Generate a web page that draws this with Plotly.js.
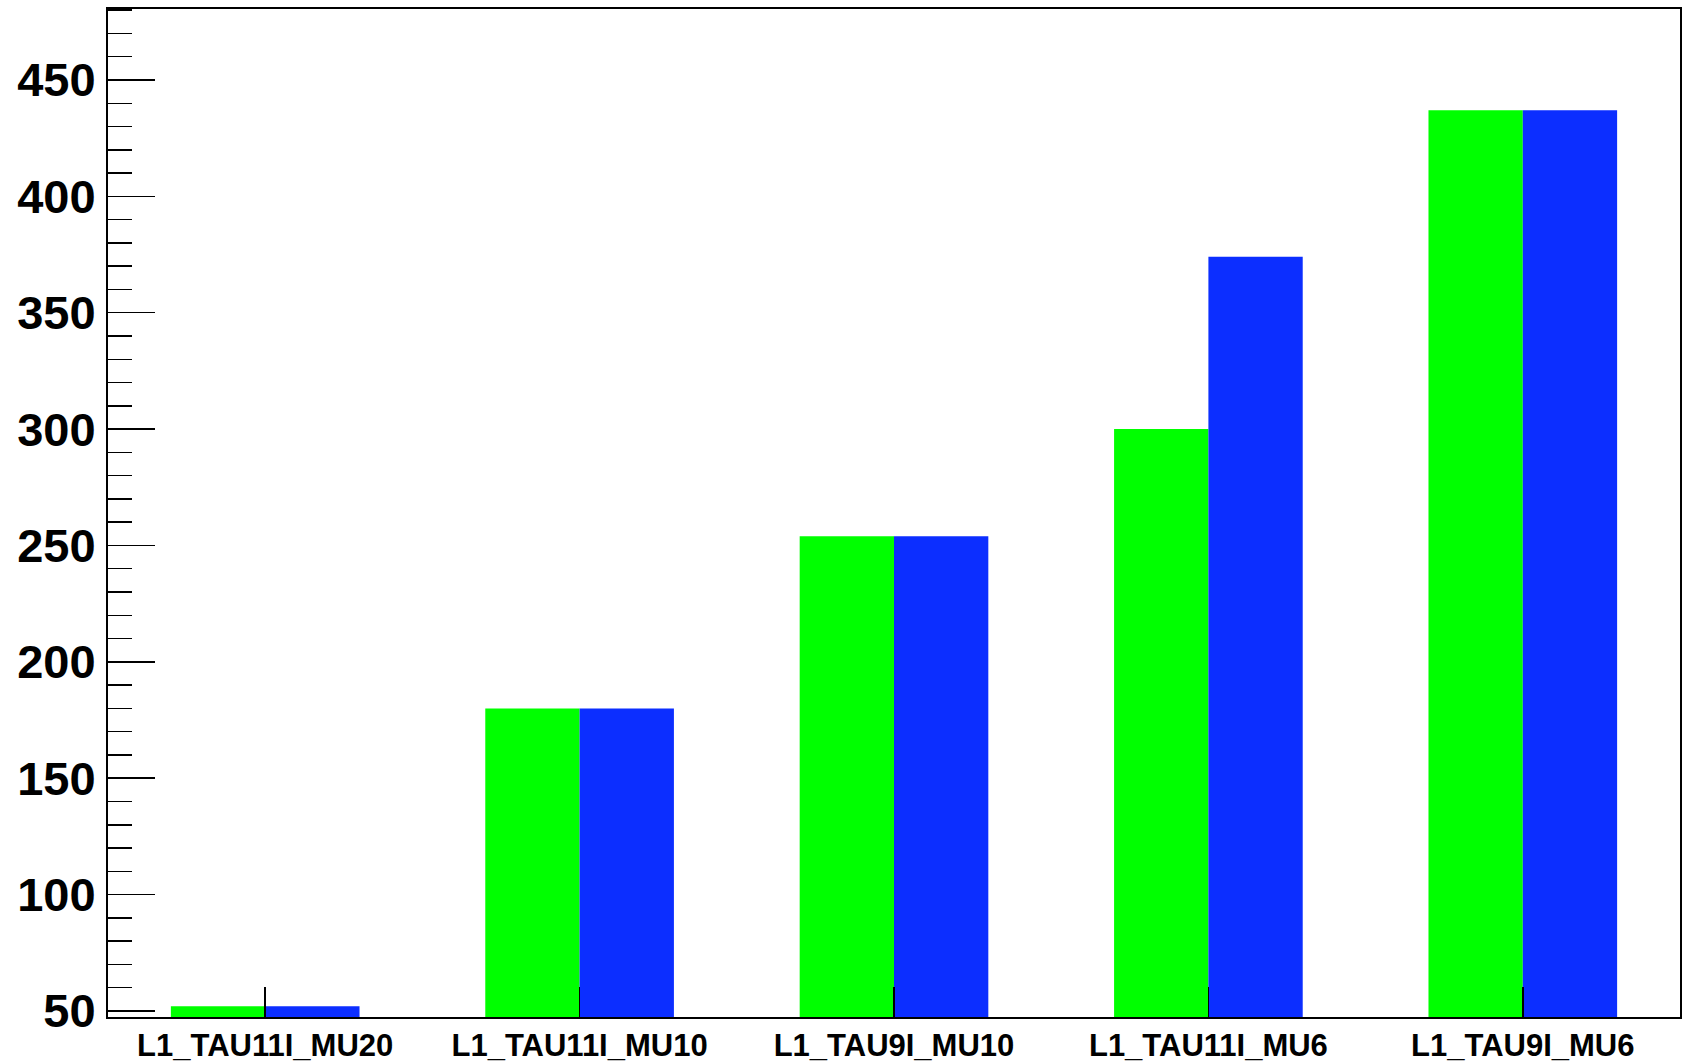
<!DOCTYPE html>
<html>
<head>
<meta charset="utf-8">
<script src="https://cdn.plot.ly/plotly-3.0.1.min.js"></script>
<style>
html,body{margin:0;padding:0;background:#fff;}
#chart{width:1685px;height:1061px;}
</style>
</head>
<body>
<div id="chart"></div>
<script>
var categories = ["L1_TAU11I_MU20", "L1_TAU11I_MU10", "L1_TAU9I_MU10", "L1_TAU11I_MU6", "L1_TAU9I_MU6"];
var greenValues = [52, 180, 254, 300, 437];
var blueValues = [52, 180, 254, 374, 437];

var traces = [
  {type: "bar", x: categories, y: greenValues, marker: {color: "#00ff00", line: {width: 0}}, showlegend: false, hoverinfo: "x+y"},
  {type: "bar", x: categories, y: blueValues, marker: {color: "#0c2eff", line: {width: 0}}, showlegend: false, hoverinfo: "x+y"}
];

var layout = {
  width: 1685,
  height: 1061,
  margin: {l: 108, r: 5, t: 9, b: 44, pad: 0},
  paper_bgcolor: "#ffffff",
  plot_bgcolor: "#ffffff",
  barmode: "group",
  bargap: 0.4,
  bargroupgap: 0,
  font: {family: "Liberation Sans, Arial, sans-serif", color: "#000000"},
  xaxis: {
    type: "category",
    showline: true,
    linecolor: "#000000",
    linewidth: 2,
    mirror: true,
    showgrid: false,
    zeroline: false,
    ticks: "inside",
    ticklen: 30,
    tickwidth: 1.5,
    tickcolor: "#000000",
    tickfont: {family: "Liberation Sans, Arial, sans-serif", size: 31, weight: "bold", color: "#000000"},
    ticklabelstandoff: 0
  },
  yaxis: {
    range: [47.4, 480.5],
    showline: true,
    linecolor: "#000000",
    linewidth: 2,
    mirror: true,
    showgrid: false,
    zeroline: false,
    tick0: 0,
    dtick: 50,
    ticks: "inside",
    ticklen: 47,
    tickwidth: 1.5,
    tickcolor: "#000000",
    minor: {dtick: 10, ticks: "inside", ticklen: 24, tickwidth: 1.5, tickcolor: "#000000", showgrid: false},
    tickfont: {family: "Liberation Sans, Arial, sans-serif", size: 47, weight: "bold", color: "#000000"},
    ticklabelstandoff: 1
  }
};

Plotly.newPlot("chart", traces, layout, {displayModeBar: false, staticPlot: true});
</script>
</body>
</html>
